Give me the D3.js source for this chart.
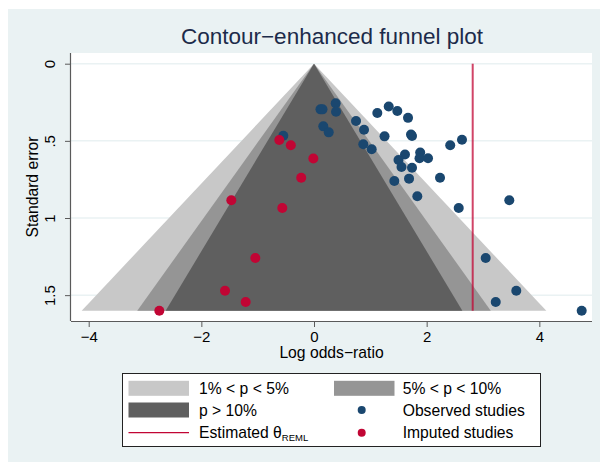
<!DOCTYPE html>
<html><head><meta charset="utf-8">
<script src="https://cdn.jsdelivr.net/npm/d3@7"></script>
<style>body{margin:0;background:#fff}svg{display:block;font-family:"Liberation Sans",Arial,Helvetica,sans-serif}</style>
</head><body><svg id="c" width="600" height="462"></svg>
<script>
// ---- data ----
const observedX  = [-0.545,0.115,0.151,0.385,0.391,0.165,0.261,0.746,0.888,0.875,1.024,1.124,1.326,1.479,1.669,1.252,1.722,1.740,2.418,2.627,1.885,1.615,1.873,2.024,1.500,1.553,1.740,1.426,1.687,2.237,1.834,2.569,3.467,3.048,3.591,3.226,4.752];
const observedSE = [0.467,0.296,0.296,0.257,0.311,0.406,0.445,0.371,0.428,0.522,0.555,0.320,0.277,0.307,0.351,0.471,0.459,0.469,0.528,0.493,0.576,0.588,0.613,0.613,0.624,0.669,0.674,0.760,0.745,0.739,0.859,0.935,0.885,1.259,1.471,1.544,1.601];
const imputedX  = [-0.616,-0.412,-0.012,-0.227,-1.468,-0.563,-1.042,-1.580,-1.213,-2.746];
const imputedSE = [0.494,0.528,0.614,0.739,0.885,0.935,1.259,1.471,1.544,1.601];
const thetaREML = 2.817;
const seMax = 1.601;
const contourZ = [2.576, 1.96, 1.645];
const contourLabels = ["1% < p < 5%", "5% < p < 10%", "p > 10%"];
const contourColors = ["#c8c8c8", "#959595", "#5f5f5f"];
const xTicks = [-4, -2, 0, 2, 4];
const xTickLabels = ["\u22124", "\u22122", "0", "2", "4"];
const yTicks = [0, 0.5, 1, 1.5];
const yTickLabels = ["0", ".5", "1", "1.5"];
const titleText = "Contour\u2212enhanced funnel plot";
const xTitle = "Log odds\u2212ratio";
const yTitle = "Standard error";

// ---- layout ----
const svg = d3.select("#c");
const L = 71, R = 592, T = 53, B = 321;
const x = d3.scaleLinear().domain([-4.314, 4.935]).range([L, R]);
const y = d3.scaleLinear().domain([-0.0693, 1.6675]).range([T, B]);
const BLUE = "#1a476f", RED = "#c10534";

svg.append("rect").attr("x", 8).attr("y", 9).attr("width", 592).attr("height", 453).attr("fill", "#eaf2f3");
svg.append("rect").attr("x", L).attr("y", T).attr("width", R - L).attr("height", B - T).attr("fill", "#fff");

// gridlines
svg.append("g").selectAll("line").data(yTicks).join("line")
  .attr("x1", L).attr("x2", R).attr("y1", d => y(d)).attr("y2", d => y(d))
  .attr("stroke", "#eaf2f3").attr("stroke-width", 1.5);

// funnel contours
svg.append("g").selectAll("path").data(contourZ).join("path")
  .attr("d", z => d3.line()([[x(-z * seMax), y(seMax)], [x(0), y(0)], [x(z * seMax), y(seMax)]]) + "Z")
  .attr("fill", (z, i) => contourColors[i]);

// estimate line
svg.append("line").attr("x1", x(thetaREML)).attr("x2", x(thetaREML))
  .attr("y1", y(0)).attr("y2", y(seMax))
  .attr("stroke", RED).attr("stroke-opacity", 0.75).attr("stroke-width", 2);

// points
svg.append("g").selectAll("circle").data(observedX).join("circle")
  .attr("cx", d => x(d)).attr("cy", (d, i) => y(observedSE[i])).attr("r", 5).attr("fill", BLUE);
svg.append("g").selectAll("circle").data(imputedX).join("circle")
  .attr("cx", d => x(d)).attr("cy", (d, i) => y(imputedSE[i])).attr("r", 5).attr("fill", RED);

// axes
const AX = "#5a5a5a";
const gx = svg.append("g").attr("transform", `translate(0,${B})`)
  .call(d3.axisBottom(x).tickValues(xTicks).tickSize(6).tickSizeOuter(0).tickFormat((d, i) => xTickLabels[i]));
gx.select(".domain").attr("stroke", AX).attr("stroke-width", 1.2).attr("d", `M${L},0.5H${R}`);
gx.selectAll(".tick line").attr("stroke", AX);
gx.selectAll(".tick text").attr("y", 21).attr("dy", null).attr("fill", "#000")
  .style("font-size", "15px").style("font-family", '"Liberation Sans",Arial,sans-serif');

const gy = svg.append("g").attr("transform", `translate(${L},0)`)
  .call(d3.axisLeft(y).tickValues(yTicks).tickSize(6).tickSizeOuter(0).tickFormat((d, i) => yTickLabels[i]));
gy.select(".domain").attr("stroke", AX).attr("stroke-width", 1.2).attr("d", `M-0.5,${T}V${B}`);
gy.selectAll(".tick line").attr("stroke", AX);
gy.selectAll(".tick text").attr("x", null).attr("dy", null).attr("text-anchor", "middle")
  .attr("transform", "translate(-16.5,0) rotate(-90)").attr("fill", "#000")
  .style("font-size", "15px").style("font-family", '"Liberation Sans",Arial,sans-serif');

// titles
svg.append("text").attr("x", 332).attr("y", 44).attr("text-anchor", "middle")
  .attr("fill", "#1c2b4a").style("font-size", "22.5px").text(titleText);
svg.append("text").attr("x", (L + R) / 2).attr("y", 358).attr("text-anchor", "middle")
  .attr("fill", "#000").style("font-size", "15.7px").text(xTitle);
svg.append("text").attr("transform", `translate(37.5,${(T + B) / 2}) rotate(-90)`).attr("text-anchor", "middle")
  .attr("fill", "#000").style("font-size", "15.7px").text(yTitle);

// legend
const lg = svg.append("g");
lg.append("rect").attr("x", 122.5).attr("y", 373.5).attr("width", 418).attr("height", 73)
  .attr("fill", "#fff").attr("stroke", "#222").attr("stroke-width", 1);
const rowsY = [388.3, 410, 432.7];
const colSw = [128.5, 334], colTx = [199, 402.7];
const fs = "15.7px";
// contour swatches
const swPos = [[0, 0], [1, 0], [0, 1]];
contourLabels.forEach((lab, i) => {
  const [c, r] = swPos[i];
  lg.append("rect").attr("x", colSw[c]).attr("y", rowsY[r] - 7.5).attr("width", 60.5).attr("height", 15)
    .attr("fill", contourColors[i]);
  lg.append("text").attr("x", colTx[c]).attr("y", rowsY[r] + 5.6).style("font-size", fs).text(lab);
});
// estimate line
lg.append("line").attr("x1", colSw[0]).attr("x2", colSw[0] + 60.5).attr("y1", rowsY[2]).attr("y2", rowsY[2])
  .attr("stroke", RED).attr("stroke-width", 1.3);
const et = lg.append("text").attr("x", colTx[0]).attr("y", rowsY[2] + 5.6).style("font-size", fs);
et.append("tspan").text("Estimated \u03B8");
et.append("tspan").attr("dy", 3).style("font-size", "9.5px").text("REML");
// markers
lg.append("circle").attr("cx", 361.7).attr("cy", rowsY[1]).attr("r", 4).attr("fill", BLUE);
lg.append("text").attr("x", colTx[1]).attr("y", rowsY[1] + 5.6).style("font-size", fs).text("Observed studies");
lg.append("circle").attr("cx", 361.7).attr("cy", rowsY[2]).attr("r", 4).attr("fill", RED);
lg.append("text").attr("x", colTx[1]).attr("y", rowsY[2] + 5.6).style("font-size", fs).text("Imputed studies");
</script></body></html>
